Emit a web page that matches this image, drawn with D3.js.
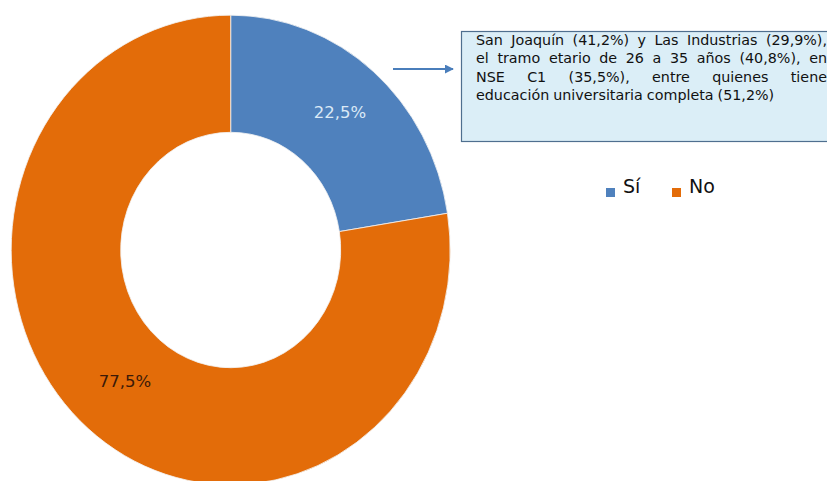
<!DOCTYPE html>
<html><head><meta charset="utf-8">
<script src="https://cdn.jsdelivr.net/npm/d3@7"></script>
<style>body{margin:0;background:#fff}svg{display:block}</style>
</head><body>
<script>
const categories = ["Sí", "No"];
const values = [22.5, 77.5];
const labels = ["22,5%", "77,5%"];
const colors = ["#4f81bd", "#e36c09"];
const labelColors = ["#dbe9f6", "#3b1a08"];
const noteLines = [
  "San Joaquín (41,2%) y Las Industrias (29,9%),",
  "el tramo etario de 26 a 35 años (40,8%), en",
  "NSE  C1  (35,5%),  entre  quienes  tiene",
  "educación universitaria completa (51,2%)"
];

const W = 827, H = 481;
const svg = d3.select("body").append("svg").attr("width", W).attr("height", H);
const font = "'DejaVu Sans', sans-serif";

const cx = 230.7, cy = 250, rOut = 219.5, rIn = 110, sy = 1.07;
const pie = d3.pie().sort(null).value(d => d)(values);
const arc = d3.arc().innerRadius(rIn).outerRadius(rOut);
const g = svg.append("g").attr("transform", `translate(${cx},${cy}) scale(1,${sy})`);
g.selectAll("path").data(pie).join("path")
  .attr("d", arc).attr("fill", (d, i) => colors[i])
  .attr("stroke", "#f3f3f3").attr("stroke-width", 0.8);

const labelPos = [[340, 112], [125, 381]];
svg.selectAll("text.lab").data(pie).join("text").attr("class", "lab")
  .attr("x", (d, i) => labelPos[i][0]).attr("y", (d, i) => labelPos[i][1])
  .attr("text-anchor", "middle").attr("dominant-baseline", "central")
  .attr("font-family", font).attr("font-size", 16.5)
  .attr("fill", (d, i) => labelColors[i]).text((d, i) => labels[i]);

// arrow
const defs = svg.append("defs");
defs.append("marker").attr("id", "ah").attr("viewBox", "0 0 10 10")
  .attr("refX", 9).attr("refY", 5).attr("markerWidth", 5).attr("markerHeight", 5)
  .attr("orient", "auto").append("path").attr("d", "M0,0L10,5L0,10Z").attr("fill", "#4a7ebb");
svg.append("line").attr("x1", 393).attr("y1", 69).attr("x2", 453).attr("y2", 69)
  .attr("stroke", "#4a7ebb").attr("stroke-width", 1.8).attr("marker-end", "url(#ah)");

// note box
svg.append("rect").attr("x", 461.5).attr("y", 31.5).attr("width", 380).attr("height", 110)
  .attr("fill", "#dbeef7").attr("stroke", "#4f6f8f").attr("stroke-width", 1.2);
const x0 = 476, x1 = 827;
noteLines.forEach((line, li) => {
  const y = 45 + li * 18.3;
  const words = line.split(/\s+/);
  const t = svg.append("g");
  const nodes = words.map(w => t.append("text").attr("y", y).attr("font-family", font)
    .attr("font-size", 14.3).attr("fill", "#111").text(w));
  const widths = nodes.map(n => n.node().getComputedTextLength());
  const total = d3.sum(widths);
  const justify = li < noteLines.length - 1;
  const gap = justify ? Math.max(2.5, (x1 - x0 - total) / (words.length - 1)) : 4;
  let x = x0;
  nodes.forEach((n, i) => { n.attr("x", x); x += widths[i] + gap; });
});

// legend
const legX = [606, 672];
categories.forEach((c, i) => {
  svg.append("rect").attr("x", legX[i]).attr("y", 188).attr("width", 9).attr("height", 9).attr("fill", colors[i]);
  svg.append("text").attr("x", legX[i] + 17).attr("y", 193).attr("font-family", font)
    .attr("font-size", 19).attr("fill", "#111").text(c);
});
</script>
</body></html>
